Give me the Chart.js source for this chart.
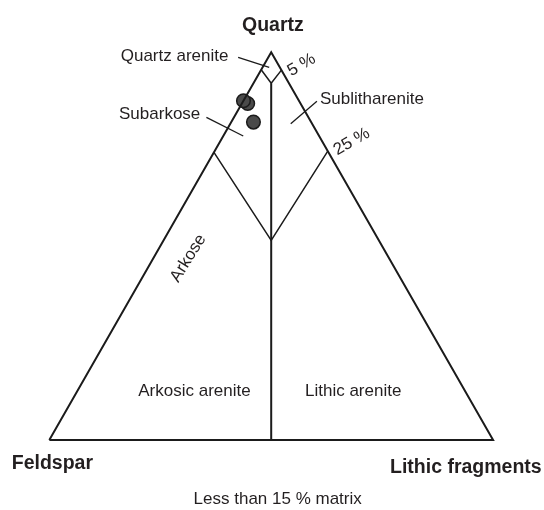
<!DOCTYPE html>
<html>
<head>
<meta charset="utf-8">
<script src="https://cdn.jsdelivr.net/npm/chart.js@4"></script>
<style>
  html, body { margin: 0; padding: 0; background: #ffffff; }
  #wrap { width: 544px; height: 510px; }
</style>
</head>
<body>
<div id="wrap"><canvas id="c" width="544" height="510"></canvas></div>
<script>
// ---- Data (ternary percentages: Q = quartz, F = feldspar, L = lithic fragments) ----
const endMembers = ['Quartz', 'Feldspar', 'Lithic fragments'];

// Samples (drawn in this order, last one on top)
const sampleQ = [86.8, 87.5, 82.0];
const sampleF = [11.9, 12.5, 13.0];
const sampleL = [1.3, 0.0, 5.0];

// Outer triangle
const frameQ = [0, 100, 0, 0];
const frameF = [100, 0, 0, 100];
const frameL = [0, 0, 100, 0];

// Quartz arenite (5 %) boundary
const qaQ = [95.5, 92.0, 95.4];
const qaF = [4.5, 4.0, 0.0];
const qaL = [0.0, 4.0, 4.6];

// 25 % boundary (subarkose / sublitharenite)
const q25Q = [74.2, 51.5, 74.5];
const q25F = [25.8, 24.25, 0.0];
const q25L = [0.0, 24.25, 25.5];

// Feldspar : lithic 1:1 divider
const midQ = [92.0, 0.0];
const midF = [4.0, 50.0];
const midL = [4.0, 50.0];

// Label leader lines
const leadQuartzAreniteQ = [98.7, 96.1];
const leadQuartzAreniteF = [8.1, 2.4];
const leadQuartzAreniteL = [-6.8, 1.5];
const leadSubarkoseQ = [83.2, 78.4];
const leadSubarkoseF = [23.0, 17.1];
const leadSubarkoseL = [-6.2, 4.5];
const leadSublithQ = [87.4, 81.6];
const leadSublithF = [-4.0, 4.8];
const leadSublithL = [16.6, 13.6];

// Field names and captions
const fieldLabels = ['Quartz arenite', 'Subarkose', 'Sublitharenite', 'Arkose',
                     'Arkosic arenite', 'Lithic arenite'];
const boundaryLabels = ['5 %', '25 %'];
const caption = 'Less than 15 % matrix';

// ---- Helpers ----
function tern(Q, F, L) {
  return Q.map((q, i) => ({ x: L[i] / 100 + q / 200, y: q / 100 }));
}
function lineSet(pts, width) {
  return {
    data: pts, showLine: true, borderColor: '#1b1b1b', borderWidth: width,
    pointRadius: 0, pointHoverRadius: 0, fill: false, tension: 0,
    borderCapStyle: 'butt', borderJoinStyle: 'miter'
  };
}

const BOLD = 'bold 19.5px "Liberation Sans", Arial, sans-serif';
const REG = '17px "Liberation Sans", Arial, sans-serif';

// Text annotations in chart data units (x along base, y = quartz fraction)
const textItems = [
  { t: endMembers[0], x: 0.5037, y: 1.0541, font: BOLD, align: 'center' },
  { t: endMembers[1], x: -0.0847, y: -0.0748, font: BOLD, align: 'left' },
  { t: endMembers[2], x: 0.7677, y: -0.0851, font: BOLD, align: 'left' },
  { t: caption, x: 0.5146, y: -0.1651, font: REG, align: 'center' },
  { t: fieldLabels[0], x: 0.1609, y: 0.9783, font: REG, align: 'left' },
  { t: fieldLabels[1], x: 0.1571, y: 0.8279, font: REG, align: 'left' },
  { t: fieldLabels[2], x: 0.6099, y: 0.8666, font: REG, align: 'left' },
  { t: fieldLabels[4], x: 0.2005, y: 0.1135, font: REG, align: 'left' },
  { t: fieldLabels[5], x: 0.5761, y: 0.1135, font: REG, align: 'left' },
  { t: fieldLabels[3], x: 0.3132, y: 0.4686, font: REG, align: 'center', rot: -58, mid: true },
  { t: boundaryLabels[0], x: 0.5686, y: 0.9672, font: REG, align: 'center', rot: -30, mid: true },
  { t: boundaryLabels[1], x: 0.6814, y: 0.7694, font: REG, align: 'center', rot: -30, mid: true }
];

const textPlugin = {
  id: 'ternaryText',
  afterDatasetsDraw(chart) {
    const ctx = chart.ctx;
    const sx = chart.scales.x, sy = chart.scales.y;
    ctx.save();
    ctx.fillStyle = '#231f20';
    textItems.forEach(it => {
      const px = sx.getPixelForValue(it.x);
      const py = sy.getPixelForValue(it.y);
      ctx.save();
      ctx.font = it.font;
      ctx.textAlign = it.align;
      ctx.textBaseline = it.mid ? 'middle' : 'alphabetic';
      ctx.translate(px, py);
      if (it.rot) ctx.rotate(it.rot * Math.PI / 180);
      ctx.fillText(it.t, 0, 0);
      ctx.restore();
    });
    ctx.restore();
  }
};

const datasets = [
  lineSet(tern(frameQ, frameF, frameL), 2),
  lineSet(tern(qaQ, qaF, qaL), 1.5),
  lineSet(tern(q25Q, q25F, q25L), 1.5),
  lineSet(tern(midQ, midF, midL), 2),
  lineSet(tern(leadQuartzAreniteQ, leadQuartzAreniteF, leadQuartzAreniteL), 1.3),
  lineSet(tern(leadSubarkoseQ, leadSubarkoseF, leadSubarkoseL), 1.3),
  lineSet(tern(leadSublithQ, leadSublithF, leadSublithL), 1.3),
  {
    data: tern(sampleQ, sampleF, sampleL),
    showLine: false,
    pointRadius: 6.8,
    pointHoverRadius: 6.8,
    pointBackgroundColor: '#4a4a4a',
    pointBorderColor: '#1b1b1b',
    pointBorderWidth: 1.5
  }
];

new Chart(document.getElementById('c'), {
  type: 'scatter',
  data: { datasets },
  options: {
    responsive: false,
    animation: false,
    layout: { padding: 0, autoPadding: false },
    plugins: { legend: { display: false }, tooltip: { enabled: false } },
    scales: {
      x: { type: 'linear', display: false, min: -0.1111, max: 1.1147 },
      y: { type: 'linear', display: false, min: -0.1806, max: 1.1349 }
    },
    elements: { line: { clip: false } }
  },
  plugins: [textPlugin]
});
</script>
</body>
</html>
